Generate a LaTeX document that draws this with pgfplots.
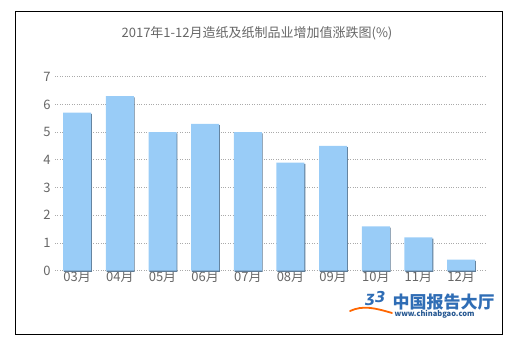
\documentclass[border=0pt]{standalone}
\usepackage{pgfplots}
\pgfplotsset{compat=1.18}
\usepackage{fontspec}
\setmainfont{Noto Sans CJK SC}
\newfontfamily\dejavu{DejaVu Sans}
\definecolor{barblue}{HTML}{99CCF7}
\definecolor{shadow}{HTML}{5E7A94}
\definecolor{tickgray}{HTML}{666666}
\definecolor{gridgray}{HTML}{AAAAAA}
\definecolor{logoblue}{HTML}{2F6DB5}
\begin{document}
\begin{tikzpicture}[x=1pt,y=1pt]
\path[use as bounding box] (0,0) rectangle (532,345);
\draw[line width=1pt,black] (15,11) rectangle (502,333);
\node[font=\fontsize{13}{15}\selectfont, text=tickgray] at (257,312) {2017年1-12月造纸及纸制品业增加值涨跌图(\%)};
\begin{axis}[
  at={(55pt,74.3pt)}, anchor=south west,
  scale only axis, width=430pt, height=194pt,
  xmin=-0.52, xmax=9.56, ymin=0, ymax=7,
  axis line style={draw=none},
  ytick={0,1,...,7},
  xtick={0,...,9},
  xticklabels={03月,04月,05月,06月,07月,08月,09月,10月,11月,12月},
  ymajorgrids, grid style={gridgray, dotted, line width=0.8pt},
  major tick length=0pt,
  tick label style={text=tickgray, font=\fontsize{13}{15}\selectfont},
  /pgf/number format/assume math mode=true,
  yticklabel style={xshift=-1pt},
  xticklabel style={yshift=3pt},
  ybar, bar width=28pt,
  clip=false,
]
\addplot[fill=shadow, draw=none, bar shift=0.8pt, yshift=-1.2pt] coordinates {(0,5.7) (1,6.3) (2,5.0) (3,5.3) (4,5.0) (5,3.9) (6,4.5) (7,1.6) (8,1.2) (9,0.4)};
\addplot[fill=barblue, draw=none, bar shift=0pt] coordinates {(0,5.7) (1,6.3) (2,5.0) (3,5.3) (4,5.0) (5,3.9) (6,4.5) (7,1.6) (8,1.2) (9,0.4)};
\end{axis}
\node[font=\fontsize{17}{19}\selectfont\bfseries, text=logoblue, anchor=west] at (389,43) {中国报告大厅};
\node[font=\fontsize{7.5}{8}\selectfont\bfseries, text=logoblue!80!black, anchor=west] at (391,31) {www.chinabgao.com};
\node[font=\fontsize{15}{17}\selectfont\dejavu\bfseries\itshape, text=logoblue, anchor=east] at (389,46) {ʒ3};
\draw[orange!80!red, line width=1.8pt, line cap=round] (350,34) .. controls (363,40) and (375,37) .. (392,32);
\end{tikzpicture}
\end{document}
